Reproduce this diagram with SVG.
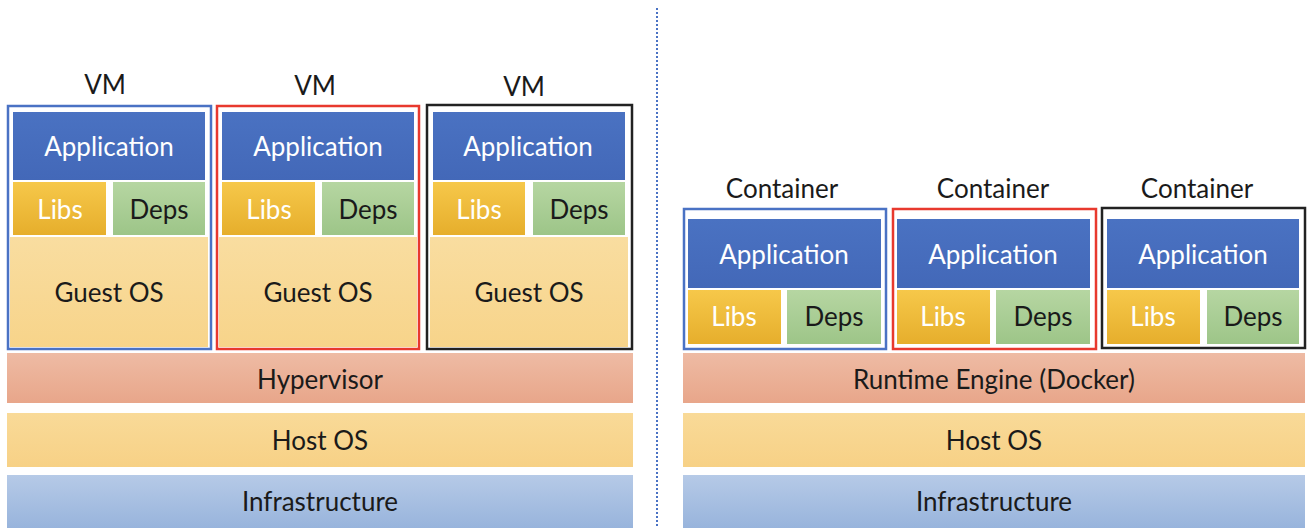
<svg xmlns="http://www.w3.org/2000/svg" width="1311" height="528" viewBox="0 0 1311 528">
  <defs>
    <linearGradient id="gApp" x1="0" y1="0" x2="0" y2="1">
      <stop offset="0" stop-color="#4A72C2"/>
      <stop offset="1" stop-color="#4368B8"/>
    </linearGradient>
    <linearGradient id="gLibs" x1="0" y1="0" x2="0" y2="1">
      <stop offset="0" stop-color="#F6C84A"/>
      <stop offset="1" stop-color="#E6AE2C"/>
    </linearGradient>
    <linearGradient id="gDeps" x1="0" y1="0" x2="0" y2="1">
      <stop offset="0" stop-color="#B6D6A2"/>
      <stop offset="1" stop-color="#9DC588"/>
    </linearGradient>
    <linearGradient id="gGuest" x1="0" y1="0" x2="0" y2="1">
      <stop offset="0" stop-color="#F9DDA0"/>
      <stop offset="1" stop-color="#F7D48A"/>
    </linearGradient>
    <linearGradient id="gHyp" x1="0" y1="0" x2="0" y2="1">
      <stop offset="0" stop-color="#EEBBA4"/>
      <stop offset="1" stop-color="#E8A68A"/>
    </linearGradient>
    <linearGradient id="gHost" x1="0" y1="0" x2="0" y2="1">
      <stop offset="0" stop-color="#F9DA98"/>
      <stop offset="1" stop-color="#F7D186"/>
    </linearGradient>
    <linearGradient id="gInfra" x1="0" y1="0" x2="0" y2="1">
      <stop offset="0" stop-color="#B6CAE7"/>
      <stop offset="1" stop-color="#98B4DC"/>
    </linearGradient>
  </defs>
  <style>
    text { font-family: Lato, "Liberation Sans", sans-serif; font-size: 26px; text-anchor: middle; }
    .w { fill: #FFFFFF; }
    .k { fill: #1A1A1A; }
    .app { fill: url(#gApp); }
    .libs { fill: url(#gLibs); }
    .deps { fill: url(#gDeps); }
    .guest { fill: url(#gGuest); }
    .hyp { fill: url(#gHyp); }
    .host { fill: url(#gHost); }
    .infra { fill: url(#gInfra); }
    .frame { fill: #FFFFFF; stroke-width: 2.5; }
    .blue { stroke: #4A72C4; }
    .red { stroke: #E8392E; }
    .black { stroke: #222222; }
  </style>
  <rect width="1311" height="528" fill="#FFFFFF"/>

  <!-- divider between the two stacks -->
  <g id="connectors">
    <line x1="657" y1="8" x2="657" y2="528" stroke="#4A72C4" stroke-width="2" stroke-dasharray="2 2"/>
  </g>

  <!-- virtual machine stack -->
  <g id="vm1">
    <text class="k" x="105" y="94">VM</text>
    <rect class="frame blue" x="8" y="106" width="203" height="243"/>
    <rect class="app" x="13" y="112" width="192" height="68"/>
    <text class="w" x="109" y="156">Application</text>
    <rect class="libs" x="13" y="182" width="93" height="53"/>
    <text class="w" x="60" y="219">Libs</text>
    <rect class="deps" x="113" y="182" width="92" height="53"/>
    <text class="k" x="159" y="219">Deps</text>
    <rect class="guest" x="10" y="237" width="198" height="110"/>
    <text class="k" x="109" y="302">Guest OS</text>
  </g>
  <g id="vm2">
    <text class="k" x="315" y="95">VM</text>
    <rect class="frame red" x="217" y="106" width="202" height="243"/>
    <rect class="app" x="222" y="112" width="192" height="68"/>
    <text class="w" x="318" y="156">Application</text>
    <rect class="libs" x="222" y="182" width="93" height="53"/>
    <text class="w" x="269" y="219">Libs</text>
    <rect class="deps" x="322" y="182" width="92" height="53"/>
    <text class="k" x="368" y="219">Deps</text>
    <rect class="guest" x="219" y="237" width="198" height="110"/>
    <text class="k" x="318" y="302">Guest OS</text>
  </g>
  <g id="vm3">
    <text class="k" x="524" y="96">VM</text>
    <rect class="frame black" x="427" y="105" width="205" height="244"/>
    <rect class="app" x="433" y="112" width="192" height="68"/>
    <text class="w" x="528" y="156">Application</text>
    <rect class="libs" x="433" y="182" width="92" height="53"/>
    <text class="w" x="479" y="219">Libs</text>
    <rect class="deps" x="533" y="182" width="92" height="53"/>
    <text class="k" x="579" y="219">Deps</text>
    <rect class="guest" x="430" y="237" width="198" height="110"/>
    <text class="k" x="529" y="302">Guest OS</text>
  </g>
  <g id="hypervisor">
    <rect class="hyp" x="7" y="353" width="626" height="50"/>
    <text class="k" x="320" y="389">Hypervisor</text>
  </g>
  <g id="vm-host-os">
    <rect class="host" x="7" y="413" width="626" height="54"/>
    <text class="k" x="320" y="450">Host OS</text>
  </g>
  <g id="vm-infrastructure">
    <rect class="infra" x="7" y="475" width="626" height="53"/>
    <text class="k" x="320" y="511">Infrastructure</text>
  </g>

  <!-- container stack -->
  <g id="container1">
    <text class="k" x="782" y="198">Container</text>
    <rect class="frame blue" x="684" y="209" width="202" height="140"/>
    <rect class="app" x="688" y="219" width="193" height="69"/>
    <text class="w" x="784" y="264">Application</text>
    <rect class="libs" x="688" y="290" width="93" height="54"/>
    <text class="w" x="734" y="326">Libs</text>
    <rect class="deps" x="787" y="290" width="94" height="54"/>
    <text class="k" x="834" y="326">Deps</text>
  </g>
  <g id="container2">
    <text class="k" x="993" y="198">Container</text>
    <rect class="frame red" x="893" y="209" width="203" height="140"/>
    <rect class="app" x="897" y="219" width="193" height="69"/>
    <text class="w" x="993" y="264">Application</text>
    <rect class="libs" x="897" y="290" width="93" height="54"/>
    <text class="w" x="943" y="326">Libs</text>
    <rect class="deps" x="996" y="290" width="94" height="54"/>
    <text class="k" x="1043" y="326">Deps</text>
  </g>
  <g id="container3">
    <text class="k" x="1197" y="198">Container</text>
    <rect class="frame black" x="1102" y="208" width="203" height="140"/>
    <rect class="app" x="1107" y="219" width="192" height="69"/>
    <text class="w" x="1203" y="264">Application</text>
    <rect class="libs" x="1107" y="290" width="93" height="54"/>
    <text class="w" x="1153" y="326">Libs</text>
    <rect class="deps" x="1207" y="290" width="92" height="54"/>
    <text class="k" x="1253" y="326">Deps</text>
  </g>
  <g id="runtime-engine">
    <rect class="hyp" x="683" y="353" width="622" height="50"/>
    <text class="k" x="994" y="389">Runtime Engine (Docker)</text>
  </g>
  <g id="ct-host-os">
    <rect class="host" x="683" y="413" width="622" height="54"/>
    <text class="k" x="994" y="450">Host OS</text>
  </g>
  <g id="ct-infrastructure">
    <rect class="infra" x="683" y="475" width="622" height="53"/>
    <text class="k" x="994" y="511">Infrastructure</text>
  </g>
</svg>
